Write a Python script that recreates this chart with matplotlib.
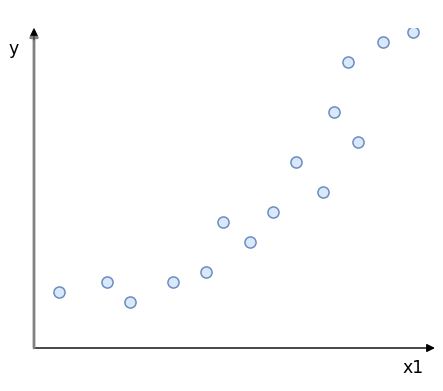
import matplotlib
matplotlib.use("Agg")
import matplotlib.pyplot as plt

x1 = [2.5, 7.3, 9.6, 13.9, 17.2, 18.9, 21.6, 23.9, 26.2, 28.9, 30.0, 31.4, 32.4, 34.9, 37.9]
y = [5.6, 6.6, 4.6, 6.6, 7.6, 12.6, 10.6, 13.6, 18.6, 15.6, 23.6, 28.6, 20.6, 30.6, 31.6]

W, H = 443, 391
fig = plt.figure(figsize=(W / 100, H / 100), dpi=100)
# axes spanning from pixel x=34..434, y=28..348
ax = fig.add_axes([34 / W, 1 - 348 / H, 400 / W, 320 / H])
ax.set_xlim(0, 40)
ax.set_ylim(0, 32)
for s in ax.spines.values():
    s.set_visible(False)
ax.set_xticks([])
ax.set_yticks([])
ax.patch.set_alpha(0)

ax.scatter(x1, y, s=64, facecolor="#dae8fc", edgecolor="#6c8ebf", linewidth=1.1, zorder=3)

# axis arrows
ax.annotate("", xy=(40.1, 0), xytext=(0, 0), xycoords="data",
            arrowprops=dict(arrowstyle="-|>", color="black", lw=1, mutation_scale=12,
                            shrinkA=0, shrinkB=0), annotation_clip=False)
ax.annotate("", xy=(0, 32.0), xytext=(0, 0), xycoords="data",
            arrowprops=dict(arrowstyle="-|>", color="#808080", lw=2, mutation_scale=12,
                            shrinkA=0, shrinkB=0), annotation_clip=False)
ax.annotate("", xy=(0, 32.0), xytext=(0, 30.8), xycoords="data",
            arrowprops=dict(arrowstyle="-|>", color="black", lw=0.5, mutation_scale=12,
                            shrinkA=0, shrinkB=0), annotation_clip=False)

fig.text(14 / W, 1 - 49 / H, "y", fontsize=12.5, ha="center", va="center")
fig.text(413 / W, 1 - 368 / H, "x1", fontsize=12.5, ha="center", va="center")

fig.savefig("out.png", dpi=100)
